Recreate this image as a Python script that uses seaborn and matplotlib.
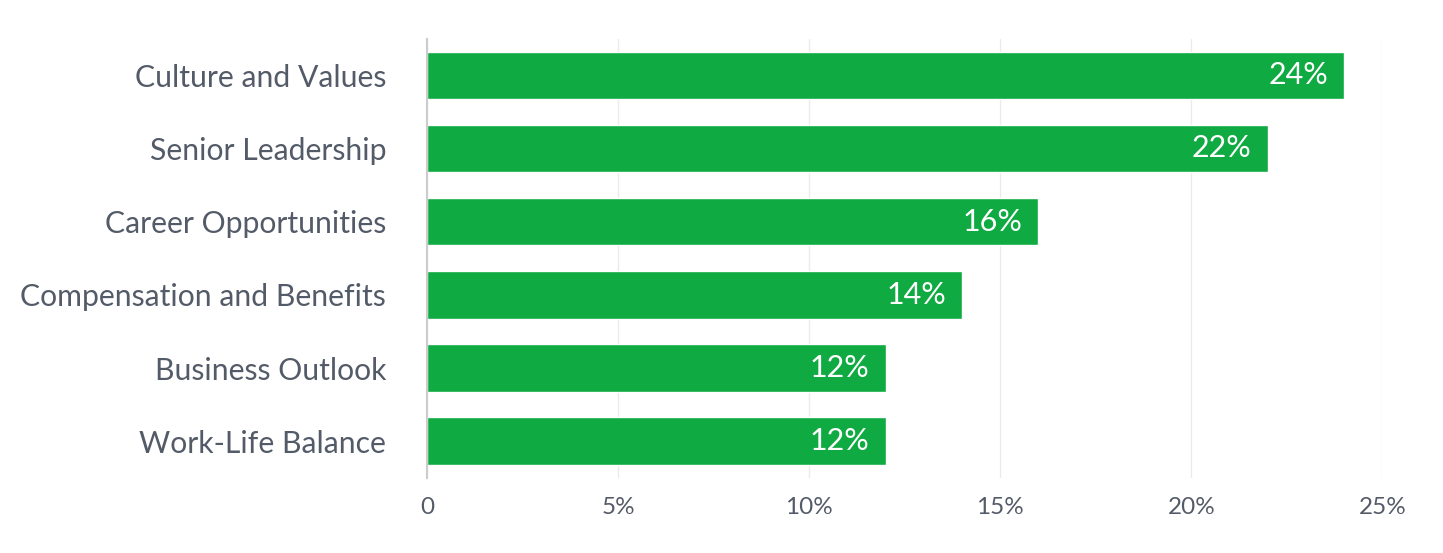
import numpy as np
import pandas as pd
import matplotlib
matplotlib.use('Agg')
import matplotlib.pyplot as plt
import seaborn as sns

sns.set_style('white')
plt.rcParams['font.family'] = ['Lato', 'DejaVu Sans']

categories = ['Culture and Values', 'Senior Leadership', 'Career Opportunities',
              'Compensation and Benefits', 'Business Outlook', 'Work-Life Balance']
values = [24, 22, 16, 14, 12, 12]
ticks = [0, 5, 10, 15, 20, 25]
tick_labels = ['0', '5%', '10%', '15%', '20%', '25%']

df = pd.DataFrame({'category': categories, 'value': values})

green = '#0faa41'
text_gray = '#545b68'

fig = plt.figure(figsize=(14.43, 5.53), dpi=100)
ax = fig.add_axes([0.296, 0.136, 0.662, 0.794])

sns.barplot(data=df, x='value', y='category', color=green, saturation=1,
            width=0.65, ax=ax, zorder=3)

ax.set_xlim(0, 25)
ax.set_ylim(5.5, -0.5)
ax.set_xticks(ticks)
ax.set_xticklabels(tick_labels)
ax.set_xlabel('')
ax.set_ylabel('')
ax.grid(axis='x', color='#ebebeb', linewidth=1, zorder=0)

for s in ['top', 'right', 'bottom']:
    ax.spines[s].set_visible(False)
ax.spines['left'].set_color('#cccccc')
ax.spines['left'].set_linewidth(1.5)
ax.spines['left'].set_zorder(4)

ax.tick_params(axis='y', length=0, pad=29.5, labelsize=21.7, labelcolor=text_gray)
ax.tick_params(axis='x', length=0, pad=14, labelsize=17.5, labelcolor=text_gray)

for i, v in enumerate(values):
    ax.text(v - 0.42, i, f'{v}%', ha='right', va='center', color='white',
            fontsize=22, zorder=5)

plt.savefig('out.png', dpi=100)
